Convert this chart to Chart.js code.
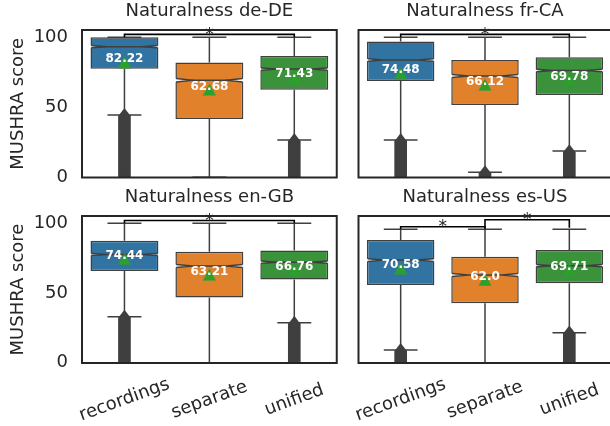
<!DOCTYPE html>
<html>
<head>
<meta charset="utf-8">
<script src="https://cdn.jsdelivr.net/npm/chart.js@4.4.1/dist/chart.umd.min.js"></script>
<style>
html, body { margin: 0; padding: 0; background: #ffffff; width: 610px; height: 426px; overflow: hidden; }
.panel { position: absolute; }
</style>
</head>
<body>
<div class="panel" style="left:0px;top:0px;width:347px;height:186px"><canvas id="c0"></canvas></div>
<div class="panel" style="left:347px;top:0px;width:273px;height:186px"><canvas id="c1"></canvas></div>
<div class="panel" style="left:0px;top:186px;width:347px;height:240px"><canvas id="c2"></canvas></div>
<div class="panel" style="left:347px;top:186px;width:273px;height:240px"><canvas id="c3"></canvas></div>
<script>
// ---------------- data ----------------
const categories = ['recordings', 'separate', 'unified'];
const panelTitles = ['Naturalness de-DE', 'Naturalness fr-CA', 'Naturalness en-GB', 'Naturalness es-US'];
const yAxisLabel = 'MUSHRA score';
const yTickValues = [0, 50, 100];
// one row per panel (de-DE, fr-CA, en-GB, es-US), one value per category
const boxQ1 = [[77.6, 41.6, 62.6], [68.8, 51.6, 58.8], [65.7, 46.7, 59.6], [58.2, 44.5, 59.5]];
const boxMedian = [[93.3, 69.3, 77.3], [83.8, 72.4, 76.2], [77.6, 69.3, 72.1], [76.9, 65.7, 72.7]];
const boxQ3 = [[100, 81.9, 86.6], [96.9, 83.8, 85.7], [87.4, 79.6, 80.5], [91.9, 79.4, 84.4]];
const notchHalf = [[0.8, 1.3, 0.8], [0.9, 1.1, 0.9], [0.75, 1.1, 0.75], [1.05, 1.1, 0.8]];
const whiskerLow = [[44.5, 0, 26.6], [26.6, 3.6, 18.8], [32.9, 0, 28.6], [9.5, 0, 22.5]];
const whiskerHigh = [[100, 100, 100], [100, 100, 100], [100, 100, 100], [100, 100, 100]];
const meanScores = [[82.22, 62.68, 71.43], [74.48, 66.12, 69.78], [74.44, 63.21, 66.76], [70.58, 62.0, 69.71]];
const outlierLow = [[0, null, 0], [0, 0, 0], [0, null, 0], [0, null, 0]];
const outlierHigh = [[44.0, null, 26.0], [26.0, 3.0, 18.0], [32.4, null, 28.0], [9.0, null, 22.0]];
const yLimits = [[-0.15, 105.2], [-0.15, 105.2], [-0.2, 105.2], [-0.2, 109.9]];
// significance brackets
const bracketPanel = [0, 1, 2, 3, 3];
const bracketFrom = [0, 0, 0, 0, 1];
const bracketTo = [2, 2, 2, 1, 2];
const bracketLevel = [102.1, 102.1, 102.0, 101.9, 107.1];
const bracketFoot = [100, 100, 100, 100, 101.1];
const bracketText = ['*', '*', '*', '*', '*'];

// ---------------- styles / layout ----------------
const FONT = "'DejaVu Sans', sans-serif";
const TEXT = '#262626';
const LINE = '#3f3f3f';
const boxColors = ['#3274a1', '#e1812c', '#3a923a'];
const meanColor = '#2ca02c';
const layoutSpec = [
  { id: 'c0', W: 347, H: 186, left: 82, right: 336.75, bottom: 177.5, showY: true, showX: false },
  { id: 'c1', W: 273, H: 186, left: 11.5, right: 264.5, bottom: 177.5, showY: false, showX: false },
  { id: 'c2', W: 347, H: 240, left: 82, right: 336.75, bottom: 177, showY: true, showX: true },
  { id: 'c3', W: 273, H: 240, left: 11.5, right: 264.5, bottom: 177, showY: false, showX: true }
];

Chart.defaults.font.family = FONT;
Chart.defaults.color = TEXT;

// mean marker: matplotlib style '^'
const tri = document.createElement('canvas');
tri.width = 14; tri.height = 13;
(function () {
  const t = tri.getContext('2d');
  t.fillStyle = meanColor;
  t.beginPath(); t.moveTo(7, 0.6); t.lineTo(13.6, 12.6); t.lineTo(0.4, 12.6); t.closePath(); t.fill();
})();

function fmtMean(v) { return Number.isInteger(v) ? v.toFixed(1) : String(v); }

const decor = {
  id: 'decor',
  beforeDatasetsDraw(chart) {
    const k = chart.options.plugins.decor.panel;
    const ctx = chart.ctx, xs = chart.scales.x, ys = chart.scales.y;
    const boxes = chart.getDatasetMeta(1).data;
    ctx.save();
    ctx.strokeStyle = LINE; ctx.lineWidth = 1.5;
    categories.forEach((c, i) => {
      const x = xs.getPixelForValue(i);
      const bw = boxes[i].width;
      const lo = ys.getPixelForValue(whiskerLow[k][i]);
      const hi = ys.getPixelForValue(whiskerHigh[k][i]);
      const q1 = ys.getPixelForValue(boxQ1[k][i]);
      const q3 = ys.getPixelForValue(boxQ3[k][i]);
      ctx.beginPath();
      ctx.moveTo(x, q1); ctx.lineTo(x, lo);
      ctx.moveTo(x, q3); ctx.lineTo(x, hi);
      ctx.moveTo(x - bw / 4, lo); ctx.lineTo(x + bw / 4, lo);
      ctx.moveTo(x - bw / 4, hi); ctx.lineTo(x + bw / 4, hi);
      ctx.stroke();
    });
    ctx.restore();
  },
  afterDatasetDraw(chart, args) {
    const k = chart.options.plugins.decor.panel;
    const ctx = chart.ctx, xs = chart.scales.x, ys = chart.scales.y, a = chart.chartArea;
    if (args.index === 0) {
      // outlier columns end in diamond markers
      ctx.save();
      ctx.beginPath(); ctx.rect(a.left, a.top, a.right - a.left, a.bottom - a.top); ctx.clip();
      ctx.fillStyle = LINE;
      categories.forEach((c, i) => {
        if (outlierHigh[k][i] === null) return;
        const x = xs.getPixelForValue(i);
        [outlierHigh[k][i], outlierLow[k][i]].forEach(v => {
          const y = ys.getPixelForValue(v);
          ctx.beginPath();
          ctx.moveTo(x, y - 7.8); ctx.lineTo(x + 6, y); ctx.lineTo(x, y + 7.8); ctx.lineTo(x - 6, y);
          ctx.closePath(); ctx.fill();
        });
      });
      ctx.restore();
    }
    if (args.index === 1) {
      // notches and medians
      const boxes = args.meta.data;
      ctx.save();
      categories.forEach((c, i) => {
        const x = xs.getPixelForValue(i);
        const bw = boxes[i].width;
        const L = x - bw / 2, R = x + bw / 2, mL = x - bw / 4, mR = x + bw / 4;
        const yM = ys.getPixelForValue(boxMedian[k][i]);
        const yA = ys.getPixelForValue(boxMedian[k][i] + notchHalf[k][i]);
        const yB = ys.getPixelForValue(boxMedian[k][i] - notchHalf[k][i]);
        ctx.fillStyle = '#ffffff';
        ctx.beginPath(); ctx.moveTo(L - 0.8, yA); ctx.lineTo(mL, yM); ctx.lineTo(L - 0.8, yB); ctx.closePath(); ctx.fill();
        ctx.beginPath(); ctx.moveTo(R + 0.8, yA); ctx.lineTo(mR, yM); ctx.lineTo(R + 0.8, yB); ctx.closePath(); ctx.fill();
        ctx.strokeStyle = LINE; ctx.lineWidth = 1.5;
        ctx.beginPath();
        ctx.moveTo(L + 0.75, yA); ctx.lineTo(mL, yM); ctx.lineTo(L + 0.75, yB);
        ctx.moveTo(R - 0.75, yA); ctx.lineTo(mR, yM); ctx.lineTo(R - 0.75, yB);
        ctx.moveTo(mL, yM); ctx.lineTo(mR, yM);
        ctx.stroke();
      });
      ctx.restore();
    }
  },
  afterDatasetsDraw(chart) {
    const k = chart.options.plugins.decor.panel;
    const ctx = chart.ctx, xs = chart.scales.x, ys = chart.scales.y, a = chart.chartArea;
    ctx.save();
    // frame
    ctx.strokeStyle = TEXT; ctx.lineWidth = 2;
    ctx.strokeRect(a.left, a.top, a.right - a.left, a.bottom - a.top);
    // mean labels
    ctx.fillStyle = '#ffffff';
    ctx.font = 'bold 12px ' + FONT;
    ctx.textAlign = 'center'; ctx.textBaseline = 'alphabetic';
    categories.forEach((c, i) => {
      ctx.fillText(fmtMean(meanScores[k][i]), xs.getPixelForValue(i), ys.getPixelForValue(meanScores[k][i]));
    });
    // brackets
    ctx.strokeStyle = '#000000'; ctx.lineWidth = 1.6;
    ctx.fillStyle = TEXT;
    ctx.font = '17px ' + FONT;
    bracketPanel.forEach((p, j) => {
      if (p !== k) return;
      const x0 = xs.getPixelForValue(bracketFrom[j]), x1 = xs.getPixelForValue(bracketTo[j]);
      const yl = ys.getPixelForValue(bracketLevel[j]), yf = ys.getPixelForValue(bracketFoot[j]);
      ctx.beginPath(); ctx.moveTo(x0, yf); ctx.lineTo(x0, yl); ctx.lineTo(x1, yl); ctx.lineTo(x1, yf); ctx.stroke();
      ctx.fillText(bracketText[j], (x0 + x1) / 2, yl + 5.5);
    });
    ctx.restore();
  },
  afterDraw(chart) {
    const o = chart.options.plugins.decor;
    if (!o.showX) return;
    const ctx = chart.ctx, xs = chart.scales.x, a = chart.chartArea;
    ctx.save();
    ctx.fillStyle = TEXT;
    ctx.font = '18px ' + FONT;
    ctx.textAlign = 'center'; ctx.textBaseline = 'middle';
    categories.forEach((c, i) => {
      ctx.save();
      ctx.translate(xs.getPixelForValue(i), a.bottom + 37);
      ctx.rotate(-20 * Math.PI / 180);
      ctx.fillText(c, 0, 0);
      ctx.restore();
    });
    ctx.restore();
  }
};

layoutSpec.forEach((L, k) => {
  new Chart(document.getElementById(L.id), {
    data: {
      labels: categories,
      datasets: [
        {
          type: 'bar', order: 3,
          data: categories.map((c, i) => outlierHigh[k][i] === null ? null : [outlierLow[k][i], outlierHigh[k][i]]),
          backgroundColor: LINE, borderWidth: 0, barThickness: 12, grouped: false
        },
        {
          type: 'bar', order: 2,
          data: categories.map((c, i) => [boxQ1[k][i], boxQ3[k][i]]),
          backgroundColor: boxColors, borderColor: LINE, borderWidth: 1.5, borderSkipped: false,
          categoryPercentage: 0.8, barPercentage: 1.0, grouped: false
        },
        {
          type: 'line', order: 1,
          data: meanScores[k],
          showLine: false, pointStyle: tri, pointRadius: 7, pointHoverRadius: 7
        }
      ]
    },
    options: {
      responsive: true, maintainAspectRatio: false, animation: false,
      events: [],
      layout: { padding: { left: 0, top: 0, right: L.W - L.right, bottom: L.H - L.bottom } },
      plugins: {
        legend: { display: false },
        tooltip: { enabled: false },
        title: {
          display: true, text: panelTitles[k], fullSize: false, align: 'center',
          color: TEXT, font: { size: 18, weight: 'normal', lineHeight: 1.2 },
          padding: { top: 0.6, bottom: 7.8 }
        },
        decor: { panel: k, showX: L.showX }
      },
      scales: {
        x: {
          type: 'category', offset: true,
          grid: { display: false, drawTicks: false },
          border: { display: false },
          ticks: { display: false },
          afterFit(s) { s.height = 0; s.paddingLeft = 0; s.paddingRight = 0; s.paddingTop = 0; s.paddingBottom = 0; }
        },
        y: {
          type: 'linear', min: yLimits[k][0], max: yLimits[k][1],
          grid: { display: false, drawTicks: false },
          border: { display: false },
          afterBuildTicks(s) { s.ticks = yTickValues.map(v => ({ value: v })); },
          ticks: {
            display: L.showY, padding: 14, color: TEXT,
            font: { size: 18 }
          },
          title: {
            display: L.showY, text: yAxisLabel, color: TEXT,
            font: { size: 18, lineHeight: 1.2 }, padding: { top: 7.2, bottom: 0 }
          },
          afterFit(s) { s.width = L.left; s.paddingTop = 0; s.paddingBottom = 0; s.paddingLeft = 0; s.paddingRight = 0; }
        }
      }
    },
    plugins: [decor]
  });
});
</script>
</body>
</html>
